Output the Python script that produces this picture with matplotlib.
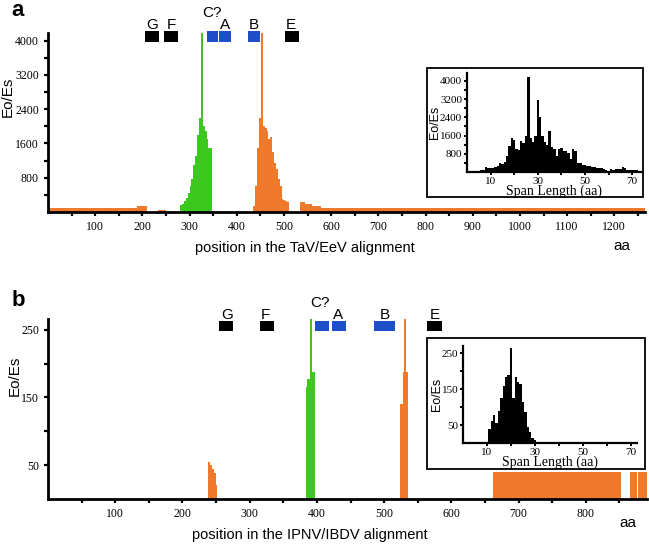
import matplotlib
matplotlib.use("Agg")
import matplotlib.pyplot as plt
from matplotlib.patches import Rectangle
import matplotlib.transforms as mtransforms

GREEN = '#3cc81e'
ORANGE = '#f07a2c'
BLUE = '#1f4fc8'

# ---- panel a data (TaV/EeV) ----
base_a_start = [0, 188, 233, 534, 545, 560, 578]
base_a_end = [188, 210, 250, 545, 560, 578, 1265]
base_a_val = [95, 130, 50, 240, 190, 130, 95]

green_a_pos = [280, 284, 288, 292, 296, 300, 304, 308, 312, 316, 320, 324, 328, 332, 336, 340, 344]
green_a_val = [170, 190, 250, 330, 450, 600, 760, 1100, 1300, 1800, 2200, 4180, 2000, 1900, 1700, 1500, 1500]

orange_a_pos = [435, 439, 443, 447, 451, 455, 459, 463, 467, 471, 475, 479, 483, 487, 491, 495, 499, 503, 507]
orange_a_val = [130, 600, 1500, 2200, 4180, 2000, 1950, 1900, 1700, 1750, 1400, 1150, 1000, 780, 600, 300, 270, 250, 240]

motif_a_start = [205, 246, 337, 363, 424, 502]
motif_a_end = [235, 276, 361, 388, 449, 532]
motif_a_col = ['k', 'k', BLUE, BLUE, BLUE, 'k']
label_a_text = ['G', 'F', 'C?', 'A', 'B', 'E']
label_a_x = [220, 261, 348, 375, 437, 515]
label_a_row = [0, 0, 1, 0, 0, 0]

span_a = list(range(1, 73))
span_a_val = [40, 40, 50, 50, 60, 80, 100, 200, 160, 160, 180, 230, 250, 380, 350, 450,
              700, 1150, 1500, 1400, 1000, 950, 1350, 1250, 1600, 4150, 1500, 1300, 1600, 3150,
              2400, 1600, 1300, 1200, 1800, 1100, 1000, 700, 1000, 1050, 900, 900, 850, 550,
              1000, 900, 400, 380, 300, 320, 280, 250, 200, 220, 180, 160, 170, 130, 100, 60,
              120, 100, 130, 120, 150, 220, 180, 100, 80, 100, 90, 100]

# ---- panel b data (IPNV/IBDV) ----
orange_b_start = [238, 241, 244, 247, 250, 523, 528, 529, 532, 662, 866, 878]
orange_b_end = [241, 244, 247, 250, 252, 528, 529, 532, 536, 853, 876, 891]
orange_b_val = [54, 50, 44, 38, 20, 141, 188, 268, 188, 40, 40, 40]

green_b_start = [384, 386, 389, 393]
green_b_end = [386, 389, 393, 397]
green_b_val = [165, 178, 266, 187]

motif_b_start = [254, 315, 397, 422, 485, 564]
motif_b_end = [275, 336, 418, 444, 516, 586]
motif_b_col = ['k', 'k', BLUE, BLUE, BLUE, 'k']
label_b_text = ['G', 'F', 'C?', 'A', 'B', 'E']
label_b_x = [266, 324, 405, 432, 501, 575]
label_b_row = [0, 0, 1, 0, 0, 0]

span_b = list(range(11, 31))
span_b_val = [38, 60, 78, 55, 90, 125, 160, 185, 190, 265, 125, 185, 170, 165, 115, 85, 45, 30, 15, 8]

W, H = 649, 544
fig = plt.figure(figsize=(W / 100, H / 100), dpi=100)
SERIF = 'Liberation Serif'
SANS = 'Liberation Sans'


def px_axes(x0, y0, x1, y1):
    # pixel box (top-left origin) -> figure axes
    return fig.add_axes([x0 / W, 1 - y1 / H, (x1 - x0) / W, (y1 - y0) / H])


def style_main(ax, lw=2.0, size=8.5):
    for s in ['top', 'right']:
        ax.spines[s].set_visible(False)
    for s in ['left', 'bottom']:
        ax.spines[s].set_linewidth(lw)
    ax.tick_params(which='both', direction='out', width=1.6, length=3, labelsize=size)
    for lab in ax.get_xticklabels() + ax.get_yticklabels():
        lab.set_family(SERIF)


def motifs(ax, starts, ends, cols, texts, xs, rows, ybox, hbox, ytext):
    tr = mtransforms.blended_transform_factory(ax.transData, ax.transAxes)
    for s, e, c in zip(starts, ends, cols):
        ax.add_patch(Rectangle((s, ybox), e - s, hbox, transform=tr, color=c,
                               clip_on=False, lw=0))
    for t, x, r in zip(texts, xs, rows):
        ax.text(x, ytext[r], t, transform=tr, ha='center', va='baseline',
                fontsize=11, family=SANS, clip_on=False)


def inset(frame, inner, xs, vals, xlim, ylim, yticks, yminor):
    fx0, fy0, fx1, fy1 = frame
    fig.patches.append(Rectangle((fx0 / W, 1 - fy1 / H), (fx1 - fx0) / W, (fy1 - fy0) / H,
                                 transform=fig.transFigure, fill=True, facecolor='white',
                                 edgecolor='black', lw=1.3, zorder=5))
    ax = px_axes(*inner)
    ax.set_zorder(6)
    ax.patch.set_alpha(0)
    ax.bar(xs, vals, width=1.0, align='center', color='black', lw=0)
    ax.set_xlim(*xlim)
    ax.set_ylim(*ylim)
    ax.set_xticks([10, 30, 50, 70])
    ax.set_xticks([20, 40, 60], minor=True)
    ax.set_yticks(yticks)
    ax.set_yticks(yminor, minor=True)
    style_main(ax, lw=1.6, size=8)
    ax.tick_params(which='both', length=2.5, width=1.4, pad=1)
    ax.set_xlabel('Span Length (aa)', family=SERIF, fontsize=10, labelpad=-1)
    ax.set_ylabel('Eo/Es', family=SANS, fontsize=9, labelpad=-1)
    return ax


# ---------------- panel a ----------------
ax1 = px_axes(48, 33, 645, 212)
ax1.bar(base_a_start, base_a_val, width=[e - s for s, e in zip(base_a_start, base_a_end)],
        align='edge', color=ORANGE, lw=0)
ax1.bar(green_a_pos, green_a_val, width=4, align='edge', color=GREEN, lw=0)
ax1.bar(orange_a_pos, orange_a_val, width=4, align='edge', color=ORANGE, lw=0)
ax1.set_xlim(0, 1265)
ax1.set_ylim(0, 4180)
ax1.set_xticks(range(100, 1300, 100))
ax1.set_xticks(range(50, 1300, 100), minor=True)
ax1.set_yticks([800, 1600, 2400, 3200, 4000])
ax1.set_yticks([400, 1200, 2000, 2800, 3600], minor=True)
style_main(ax1)
motifs(ax1, motif_a_start, motif_a_end, motif_a_col, label_a_text, label_a_x, label_a_row,
       0.95, 0.062, [1.02, 1.09])

fig.text(8 / W, 1 - 97 / H, 'Eo/Es', rotation=90, ha='center', va='center', fontsize=11, family=SANS)
fig.text(305 / W, 1 - 248 / H, 'position in the TaV/EeV alignment', ha='center', va='center',
         fontsize=10.5, family=SANS)
fig.text(622 / W, 1 - 246 / H, 'aa', ha='center', va='center', fontsize=11, family=SANS)
fig.text(18 / W, 1 - 10 / H, 'a', ha='center', va='center', fontsize=16, weight='bold', family=SANS)

inset((427, 68, 643, 197), (467, 73, 641, 172), span_a, span_a_val, (0, 73.7), (0, 4340),
      [800, 1600, 2400, 3200, 4000], [400, 1200, 2000, 2800, 3600])

# ---------------- panel b ----------------
ax2 = px_axes(48, 319, 647, 499)
ax2.bar(orange_b_start, orange_b_val, width=[e - s for s, e in zip(orange_b_start, orange_b_end)],
        align='edge', color=ORANGE, lw=0)
ax2.bar(green_b_start, green_b_val, width=[e - s for s, e in zip(green_b_start, green_b_end)],
        align='edge', color=GREEN, lw=0)
ax2.set_xlim(0, 891)
ax2.set_ylim(0, 266)
ax2.set_xticks(range(100, 900, 100))
ax2.set_xticks(range(50, 900, 100), minor=True)
ax2.set_yticks([50, 150, 250])
ax2.set_yticks([100, 200], minor=True)
style_main(ax2)
motifs(ax2, motif_b_start, motif_b_end, motif_b_col, label_b_text, label_b_x, label_b_row,
       0.933, 0.057, [1.0, 1.065])

fig.text(15 / W, 1 - 376 / H, 'Eo/Es', rotation=90, ha='center', va='center', fontsize=11, family=SANS)
fig.text(310 / W, 1 - 535 / H, 'position in the IPNV/IBDV alignment', ha='center', va='center',
         fontsize=10.5, family=SANS)
fig.text(628 / W, 1 - 523 / H, 'aa', ha='center', va='center', fontsize=11, family=SANS)
fig.text(18 / W, 1 - 300 / H, 'b', ha='center', va='center', fontsize=16, weight='bold', family=SANS)

inset((427, 338, 645, 469), (463, 346, 637, 443), span_b, span_b_val, (0, 72.5), (0, 270),
      [50, 150, 250], [100, 200])

fig.savefig('out.png', dpi=100)
